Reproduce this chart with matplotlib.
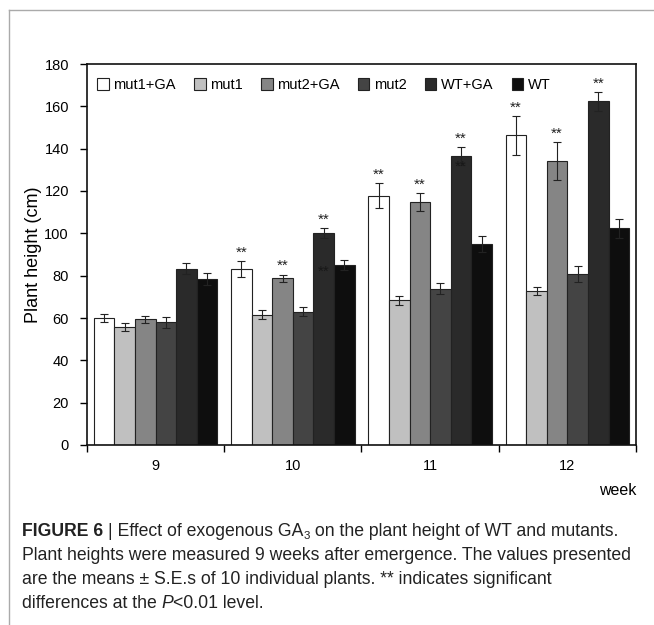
import numpy as np
import matplotlib
matplotlib.use("Agg")
import matplotlib.pyplot as plt
from matplotlib.lines import Line2D

plt.rcParams['font.family'] = ['Liberation Sans', 'DejaVu Sans']

weeks = ['9', '10', '11', '12']
groups = ['mut1+GA', 'mut1', 'mut2+GA', 'mut2', 'WT+GA', 'WT']
colors = ['#ffffff', '#c0c0c0', '#858585', '#444444', '#2a2a2a', '#0e0e0e']

# means per group, one value per week
mut1_ga = [59.8, 83.0, 117.8, 146.3]
mut1 = [55.9, 61.6, 68.3, 72.7]
mut2_ga = [59.4, 78.7, 114.8, 134.2]
mut2 = [58.0, 63.0, 73.8, 80.9]
wt_ga = [83.3, 100.1, 136.5, 162.3]
wt = [78.3, 85.0, 94.8, 102.3]

# standard errors
mut1_ga_se = [1.9, 3.7, 5.9, 9.2]
mut1_se = [1.9, 2.3, 2.1, 1.9]
mut2_ga_se = [1.6, 1.8, 4.3, 9.1]
mut2_se = [2.7, 2.1, 2.5, 3.7]
wt_ga_se = [2.5, 2.2, 4.3, 4.5]
wt_se = [2.8, 2.4, 3.8, 4.5]

means = [mut1_ga, mut1, mut2_ga, mut2, wt_ga, wt]
errs = [mut1_ga_se, mut1_se, mut2_ga_se, mut2_se, wt_ga_se, wt_se]

# significance marks (group index, week index)
signif = [(0, 1), (2, 1), (4, 1), (0, 2), (2, 2), (4, 2), (0, 3), (2, 3), (4, 3)]
# stray marks drawn inside the WT+GA bars in the original
stray = [(1, 82.0), (2, 131.5)]

fig = plt.figure(figsize=(6.54, 6.25), dpi=100)
ax = fig.add_axes([0.133, 0.288, 0.8395, 0.6096])

x = np.arange(len(weeks))
w = 0.15
for j, g in enumerate(groups):
    ax.bar(x + (j - 2.5) * w, means[j], w, color=colors[j], edgecolor='#222222',
           linewidth=0.8, label=g, zorder=2)
    ax.errorbar(x + (j - 2.5) * w, means[j], yerr=errs[j], fmt='none',
                ecolor='#222222', elinewidth=0.8, capsize=3, capthick=0.8, zorder=3)

for j, k in signif:
    ax.annotate('**', (x[k] + (j - 2.5) * w, means[j][k] + errs[j][k]),
                xytext=(0, 1), textcoords='offset points', ha='center', va='bottom',
                fontsize=11, color='#222222')
for k, v in stray:
    ax.text(x[k] + 1.5 * w, v, '**', ha='center', va='center', fontsize=11, color='#181818')

ax.set_xlim(-0.5, 3.5)
ax.set_ylim(0, 180)
ax.set_yticks(np.arange(0, 181, 20))
ax.set_xticks(np.arange(-0.5, 3.6, 1))
ax.set_xticklabels([])
ax.set_xticks(x, minor=True)
ax.set_xticklabels(weeks, minor=True)
ax.tick_params(axis='x', which='minor', length=0, pad=10, labelsize=10.5)
ax.tick_params(axis='x', which='major', direction='out', length=5, width=1)
ax.tick_params(axis='y', direction='out', length=5, width=1, labelsize=10.5, pad=8)
for s in ax.spines.values():
    s.set_linewidth(1.2)
    s.set_color('#111111')
ax.set_ylabel('Plant height (cm)', fontsize=13, labelpad=2)
ax.text(1.0, -0.12, 'week', transform=ax.transAxes, ha='right', va='center', fontsize=11.5)

ax.legend(loc='upper left', bbox_to_anchor=(0.0, 0.99), ncol=6, frameon=False,
          fontsize=10.5, handlelength=0.8, handleheight=0.8, handletextpad=0.3,
          columnspacing=1.25, borderaxespad=0.3)

# page frame lines
fig.add_artist(Line2D([9 / 654, 1], [1 - 10 / 625, 1 - 10 / 625], color='#aaaaaa', lw=1))
fig.add_artist(Line2D([9 / 654, 9 / 654], [0, 1 - 10 / 625], color='#aaaaaa', lw=1))

# caption, sized so the second line spans the same width as in the figure
renderer = fig.canvas.get_renderer()
probe = fig.text(0, 0, 'Plant heights were measured 9 weeks after emergence. The values presented',
                 fontsize=12)
fs = 12 * 612 / probe.get_window_extent(renderer).width
probe.remove()


def put(y, pieces):
    xp = 22
    for s, kw in pieces:
        size = kw.pop('size', fs)
        dy = kw.pop('dy', 0)
        t = fig.text(xp / 654, (625 - y - dy) / 625, s, fontsize=size, color='#222222',
                     va='baseline', **kw)
        xp = t.get_window_extent(renderer).x1


put(536, [('FIGURE 6 ', dict(fontweight='bold')),
          ('| Effect of exogenous GA', {}),
          ('3', dict(size=fs * 0.65, dy=3)),
          (' on the plant height of WT and mutants.', {})])
put(560, [('Plant heights were measured 9 weeks after emergence. The values presented', {})])
put(584, [('are the means \u00b1 S.E.s of 10 individual plants. ** indicates significant', {})])
put(608, [('differences at the ', {}), ('P', dict(style='italic')), ('<0.01 level.', {})])

fig.savefig('out.png', dpi=100)
